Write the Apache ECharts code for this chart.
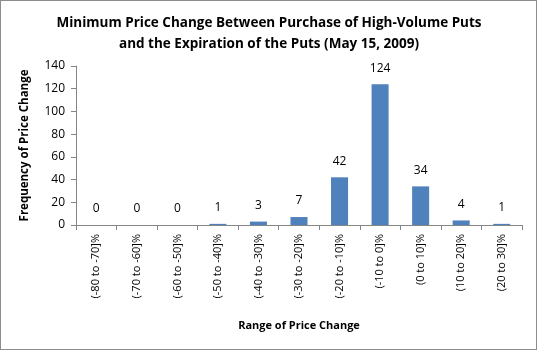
<!DOCTYPE html>
<html><head><meta charset="utf-8">
<script src="https://cdn.jsdelivr.net/npm/echarts@6/dist/echarts.min.js"></script>
<style>html,body{margin:0;padding:0;background:#fff}#c{width:535px;height:348px;border:1px solid #8c8c8c}</style>
</head><body><div id="c"></div>
<script>
const categories = ['(-80 to -70]%','(-70 to -60]%','(-60 to -50]%','(-50 to -40]%','(-40 to -30]%','(-30 to -20]%','(-20 to -10]%','(-10 to 0]%','(0 to 10]%','(10 to 20]%','(20 to 30]%'];
const values = [0,0,0,1,3,7,42,124,34,4,1];
const yTicks = [0,20,40,60,80,100,120,140];
const chart = echarts.init(document.getElementById('c'));
const font = 'Open Sans, Liberation Sans, sans-serif';
chart.setOption({
  animation:false,
  title:{text:'Minimum Price Change Between Purchase of High-Volume Puts\nand the Expiration of the Puts (May 15, 2009)',left:263,top:7,textAlign:'center',
    textStyle:{fontFamily:font,fontSize:13.5,fontWeight:'bold',color:'#000',lineHeight:21}},
  grid:{left:75,right:14,top:65,bottom:124,containLabel:false},
  xAxis:{type:'category',data:categories,
    name:'Range of Price Change',nameLocation:'middle',nameGap:95,
    nameTextStyle:{fontFamily:font,fontSize:11,fontWeight:'bold',color:'#000'},
    axisLine:{lineStyle:{color:'#868686'}},
    axisTick:{show:true,alignWithLabel:false,length:5,lineStyle:{color:'#868686'}},
    axisLabel:{rotate:90,fontFamily:font,fontSize:11,color:'#000',margin:9,interval:0}},
  yAxis:{type:'value',min:0,max:140,interval:20,
    name:'Frequency of Price Change',nameLocation:'middle',nameGap:45,
    nameTextStyle:{fontFamily:font,fontSize:11.5,fontWeight:'bold',color:'#000'},
    axisLine:{show:true,lineStyle:{color:'#868686'}},
    axisTick:{show:true,length:5,lineStyle:{color:'#868686'}},
    splitLine:{show:false},
    axisLabel:{fontFamily:font,fontSize:12,color:'#000',margin:11,
      formatter:v=>yTicks.includes(v)?String(v):''}},
  series:[{type:'bar',data:values,barWidth:'42%',itemStyle:{color:'#4F81BD'},
    label:{show:true,position:'top',distance:10,fontFamily:font,fontSize:12,color:'#000'}}]
});
</script></body></html>
